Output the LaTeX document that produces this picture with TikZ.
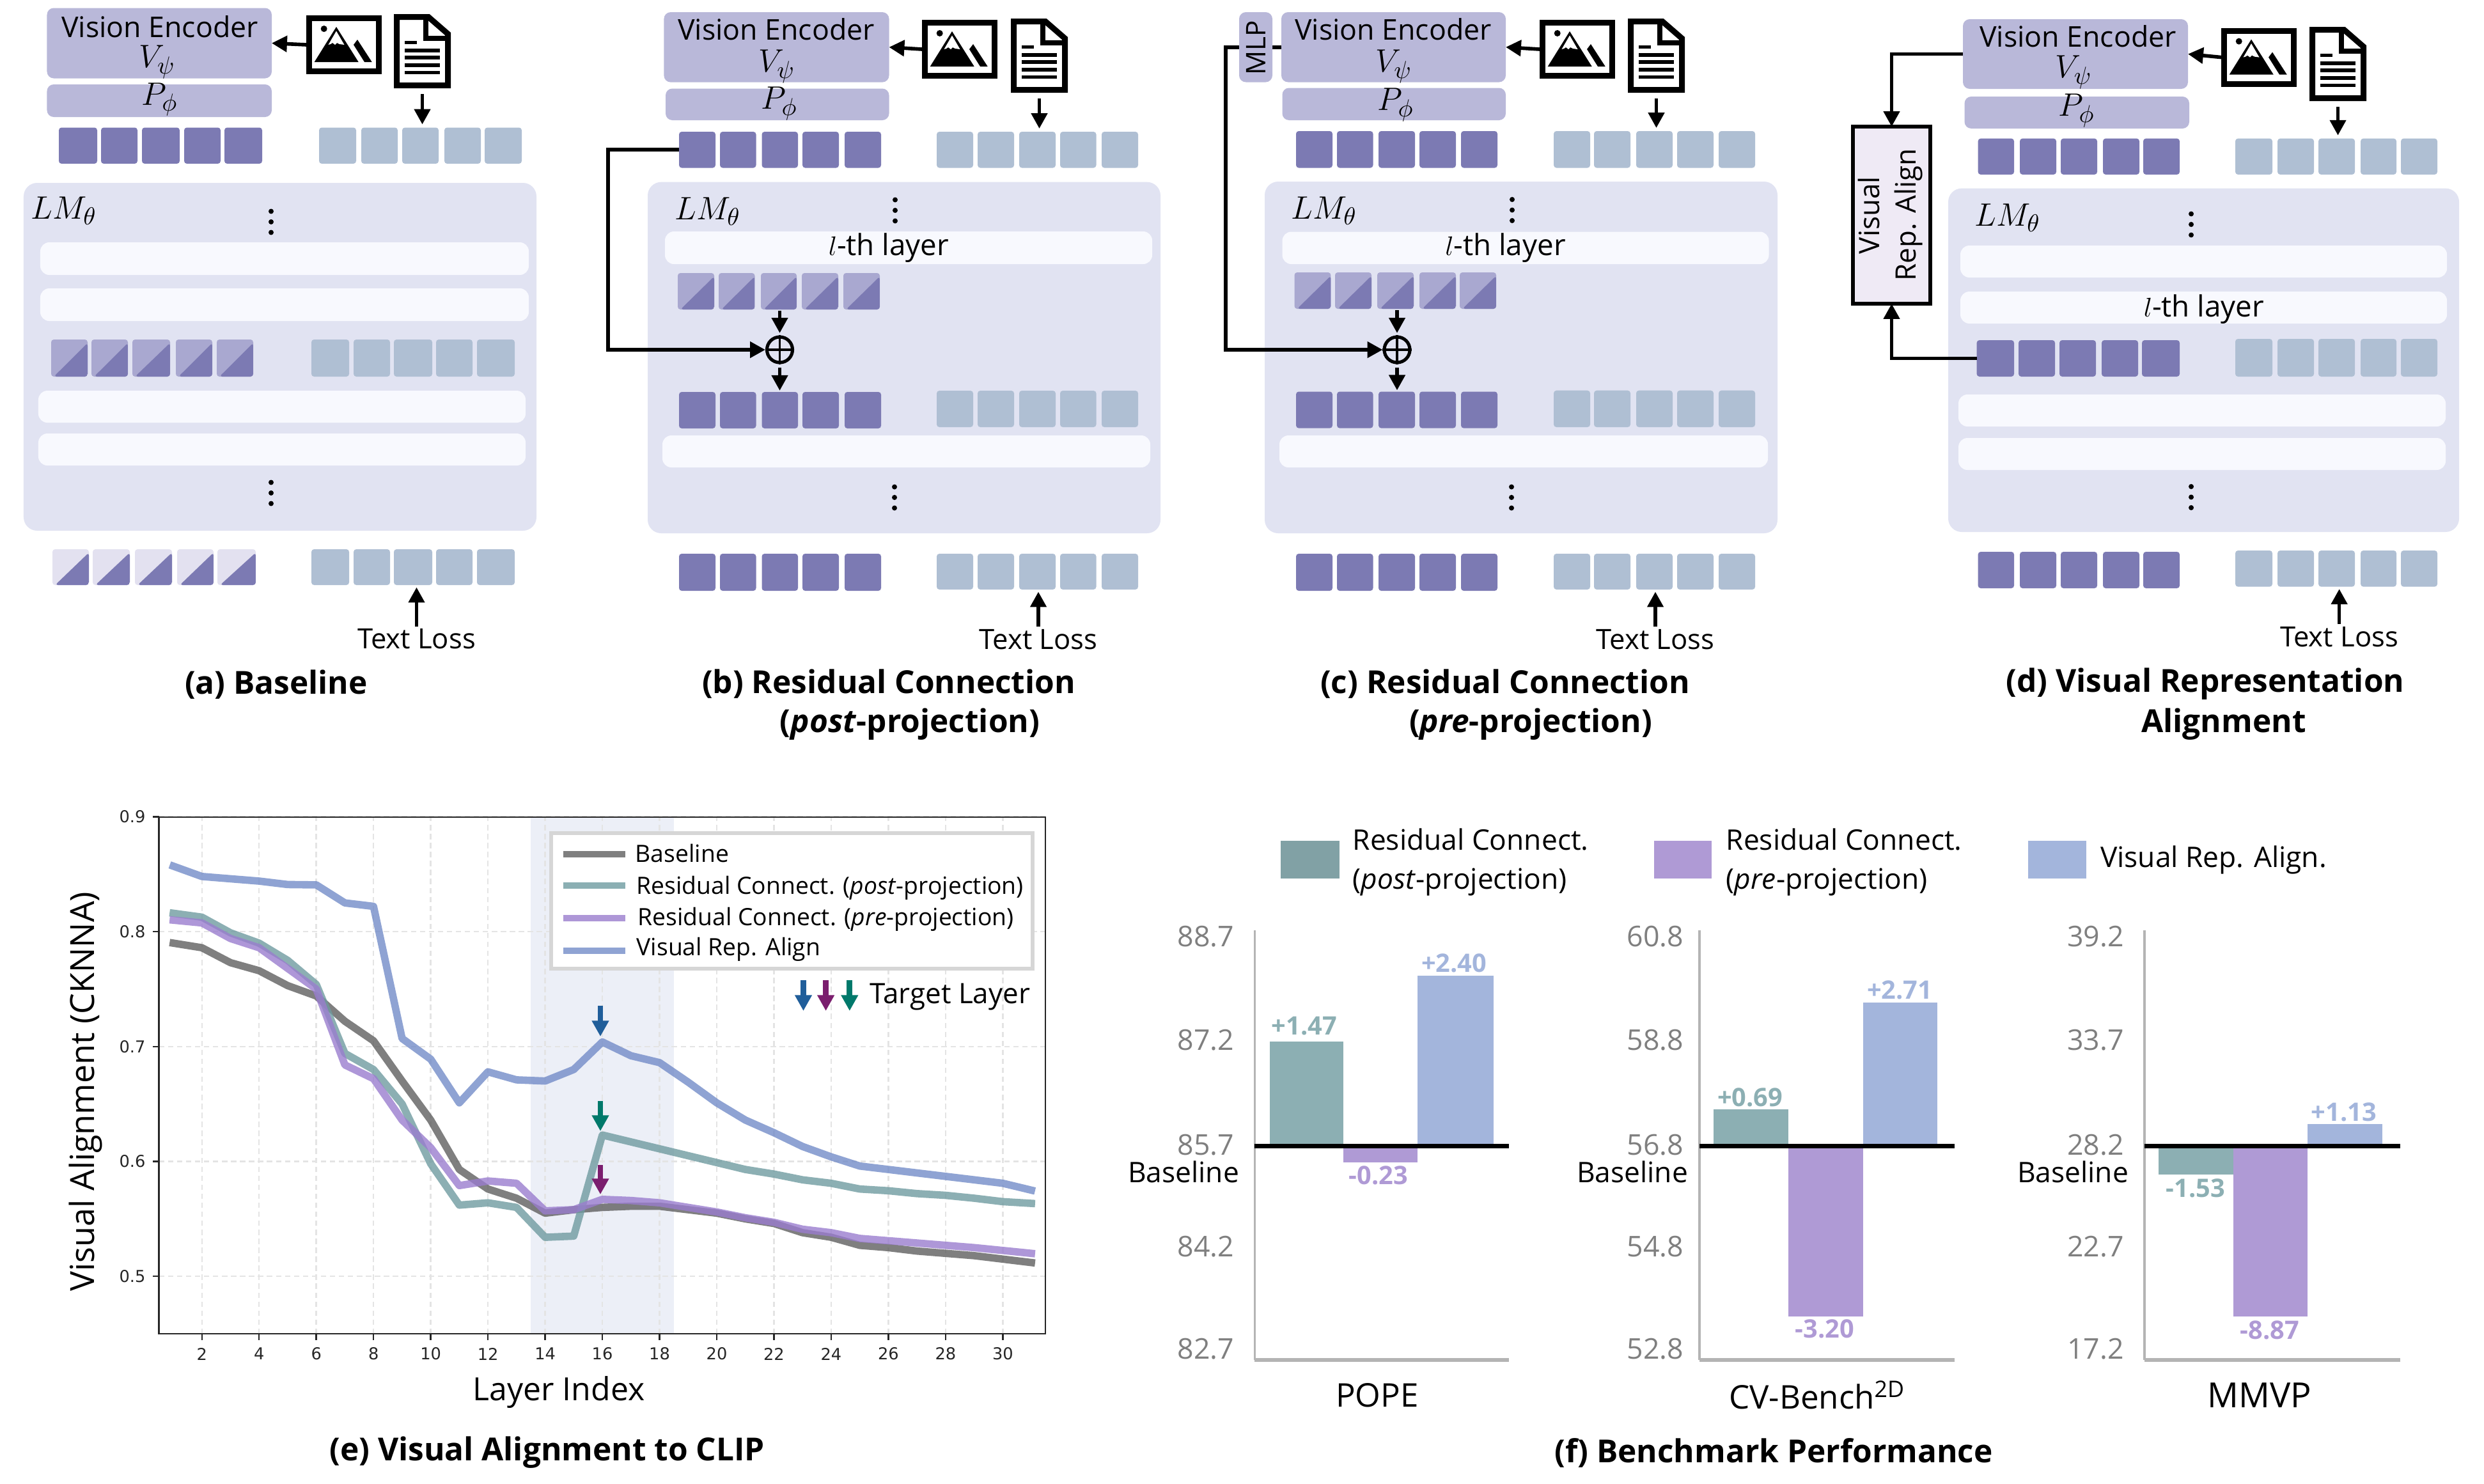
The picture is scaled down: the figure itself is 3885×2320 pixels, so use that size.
\documentclass[tikz,border=0pt]{standalone}
\usepackage{fontspec}
\setmainfont{Open Sans}
\newfontfamily\dejavu{DejaVu Sans}
\usetikzlibrary{arrows.meta,calc}
\DeclareMathSizes{13.5}{13.5}{10.5}{8}
\definecolor{tokdark}{HTML}{7C7AB3}
\definecolor{toktext}{HTML}{AFBFD3}
\definecolor{encfill}{HTML}{B9B8D9}
\definecolor{lmfill}{HTML}{E1E3F2}
\definecolor{barfill}{HTML}{F8F9FE}
\definecolor{halfmid}{HTML}{A9A8D0}
\definecolor{halflast}{HTML}{E3E1F0}
\definecolor{vrafill}{HTML}{EFEAF5}
\definecolor{cgreen}{HTML}{8CAFB3}
\definecolor{cpurple}{HTML}{AF9AD5}
\definecolor{cblue}{HTML}{A3B5DC}
\definecolor{lgreen}{HTML}{6F9BA0}
\definecolor{lpurple}{HTML}{9A7DCE}
\definecolor{lblue}{HTML}{738CC8}
\definecolor{lgray}{HTML}{5F5F5F}
\definecolor{tgray}{HTML}{7F7F7F}
\definecolor{axgray}{HTML}{B4B4B4}
\definecolor{griddash}{HTML}{E4E4E4}
\definecolor{bandfill}{HTML}{ECEFF7}
\definecolor{arblue}{HTML}{205E9A}
\definecolor{argreen}{HTML}{00796B}
\definecolor{arpurple}{HTML}{7B1E6E}
\newcommand\fs[1]{\fontsize{#1}{#1}\selectfont}
% box: [style]{name}{x1}{y1}{x2}{y2}{text}
\newcommand\mybox[7][]{%
  \pgfmathsetmacro\bxw{(#5-#3)*0.01}\pgfmathsetmacro\bxh{(#6-#4)*0.01}%
  \node[#1,minimum width=\bxw cm,minimum height=\bxh cm,inner sep=0pt,outer sep=0pt] (#2) at ({(#3+#5)/2},{(#4+#6)/2}) {#7};}
% row of tokens: {style}{prefix}{y1}{y2}{x1/x2,...}
\newcommand\tokrow[5]{\foreach \a/\b [count=\i] in {#5} {\mybox[#1]{#2\i}{\a}{#3}{\b}{#4}{}}}
\newcommand\imgicon[3]{%
  \node[draw=black,line width=2.56pt,fill=white,minimum width=1.09cm,minimum height=0.83cm,inner sep=0pt] (#1) at (#2+59,#3+46) {};
  \begin{scope}[shift={(#2,#3)}]
    \fill (27.7,21) circle (0.05cm);
    \fill (47,18) -- (12.7,73) -- (81.7,73) -- cycle;
    \fill[white] (47,24.5) -- (34.5,46) -- (38,45) -- (41,43) -- (45,46) -- (48,43) -- (52,45) -- (59.5,46) -- cycle;
    \fill (80,38) -- (102.7,73) -- (91,73) -- (74,46) -- cycle;
  \end{scope}}
\newcommand\docicon[3]{%
  \node[minimum width=0.89cm,minimum height=1.16cm,inner sep=0pt] (#1) at (#2+44.5,#3+58) {};
  \begin{scope}[shift={(#2,#3)}]
    \draw[line width=2.56pt,fill=white,miter limit=10] (4.5,4.5) -- (54,4.5) -- (84.5,31) -- (84.5,111.5) -- (4.5,111.5) -- cycle;
    \draw[line width=2.2pt] (50,4.5) -- (50,38) -- (84,38);
    \foreach \ly in {57,68,80,91.7} {\draw[line width=1.5pt] (17,\ly) -- (72,\ly);}
    \draw[line width=1.5pt] (17,44.7) -- (36,44.7);
  \end{scope}}
\newcommand\vdotsat[3]{%
  \node[minimum size=1pt,inner sep=0pt] (#1) at (#2,#3) {};
  \fill (#2,#3-16.5) circle (0.04cm) (#2,#3) circle (0.04cm) (#2,#3+16.5) circle (0.04cm);}
\newcommand\plusat[3]{%
  \node[circle,draw=black,line width=1.45pt,minimum size=0.40cm,inner sep=0pt] (#1) at (#2,#3) {};
  \draw[line width=1.1pt] (#1.north) -- (#1.south) (#1.west) -- (#1.east);}
\tikzset{
  tokv/.style={fill=tokdark,rounded corners=1.2pt},
  tokt/.style={fill=toktext,rounded corners=1.2pt},
  half/.style={fill=#1,rounded corners=1.2pt,path picture={\fill[tokdark] ([xshift=1.2pt]path picture bounding box.south west) -- (path picture bounding box.south east) -- ([yshift=-1.5pt]path picture bounding box.north east) -- cycle;}},
  encbox/.style={fill=encfill,rounded corners=3pt},
  lmbox/.style={fill=lmfill,rounded corners=6pt},
  layerbar/.style={fill=barfill,rounded corners=4pt},
  layertext/.style={font=\fs{13},inner sep=0pt},
  enctext/.style={font=\fs{12.7},inner sep=0pt},
  mathtext/.style={font=\fs{13.5},inner sep=0pt},
  caption/.style={font=\bfseries\fs{14.1},inner sep=0pt},
  losstext/.style={font=\fs{12.4},inner sep=0pt},
  arr/.style={line width=1.6pt,-{Triangle[length=6.8pt,width=7pt]}},
  elbow/.style={line width=1.5pt,line join=miter},
  serie/.style={line width=3.3pt,draw opacity=.8,line cap=rect,line join=round},
  etick/.style={font=\dejavu\fs{7.3},text=black!85,inner sep=0pt},
  elegend/.style={font=\fs{10.6},inner sep=0pt,anchor=west},
  ftick/.style={font=\fs{12.7},text=tgray,inner sep=0pt,anchor=east},
  fbase/.style={font=\fs{12.6},inner sep=0pt},
  fval/.style={font=\bfseries\fs{11.3},inner sep=0pt},
  fcat/.style={font=\fs{14.5},inner sep=0pt},
  flegend/.style={font=\fs{12.6},inner sep=0pt,anchor=west},
  tgt/.style={line width=2.5pt,-{Triangle[length=7pt,width=7.2pt]}},
}
\begin{document}
\begin{tikzpicture}[x=0.01cm,y=-0.01cm]
\useasboundingbox (0,0) rectangle (3885,2320);
% ===== panel a
\mybox[encbox]{enca}{73.5}{12.5}{425}{122.5}{}
\mybox[encbox]{proja}{73.5}{132}{425}{183}{}
\node[enctext] (vea) at (250,42) {Vision Encoder};
\node[mathtext] (va) at (245.7,97) {$V_\psi$};
\node[mathtext] (pa) at (249.7,155.5) {$P_\phi$};
\imgicon{imga}{479}{24}
\docicon{doca}{616}{22}
\tokrow{tokv}{tva}{199.5}{256}{92/152,158/215,222/281,288/345,351/410}
\tokrow{tokt}{tta}{199.5}{256}{499/557,565/622,629/686,695/752,758/816}
\mybox[lmbox]{lma}{37}{286}{839}{830}{}
\node[mathtext] (lma t) at (100,330) {$LM_\theta$};
\vdotsat{da1}{424}{347}
\mybox[layerbar]{ba1}{63}{379}{827}{430}{}
\mybox[layerbar]{ba2}{63}{451}{827}{502}{}
\tokrow{half=halfmid}{hma}{531}{589}{80/137,143/200,207/266,275/332,339/396}
\tokrow{tokt}{mta}{531}{589}{487/546,553/610,616/676,682/739,746/805}
\mybox[layerbar]{ba3}{60}{611}{822}{661}{}
\mybox[layerbar]{ba4}{60}{678}{822}{728}{}
\vdotsat{da2}{424}{771}
\tokrow{half=halflast}{hba}{859}{915}{82/139,145/203,211/269,277/334,340/400}
\tokrow{tokt}{bta}{859}{915}{487/546,553/610,616/676,682/739,746/805}
\node[losstext] (tla) at (651.5,999.6) {Text Loss};
\draw[arr] (imga.west) -- (enca.east);
\draw[arr,shorten <=2.4pt,shorten >=1.4pt] (doca.south) -- (doca.south |- tta3.north);
\draw[arr,shorten <=1pt,shorten >=1pt] (tla.north) -- (tla.north |- bta3.south);
\node[caption] (capa) at (432,1071) {(a) Baseline};
% ===== panel b
\mybox[encbox]{encb}{1038.4}{19}{1390.5}{128.6}{}
\mybox[encbox]{projb}{1041}{138.5}{1390.5}{188}{}
\node[enctext] (veb) at (1214,46) {Vision Encoder};
\node[mathtext] (vb) at (1215,104) {$V_\psi$};
\node[mathtext] (pb) at (1219,162) {$P_\phi$};
\imgicon{imgb}{1442}{31}
\docicon{docb}{1581}{29}
\tokrow{tokv}{tvb}{206}{262.5}{1062/1119,1126/1182.5,1191.5/1248,1255/1312,1321/1378}
\tokrow{tokt}{ttb}{206}{262.5}{1465/1522,1529/1586,1594/1651,1658/1714.5,1723/1780}
\mybox[lmbox]{lmb}{1013}{284.7}{1815}{834}{}
\node[mathtext] (lmb t) at (1107,331) {$LM_\theta$};
\vdotsat{db1}{1400}{329}
\mybox[layerbar]{bb1}{1040}{362}{1802}{413}{}
\node[layertext] (lb) at (1390,388) {$l$-th layer};
\tokrow{half=halfmid}{hmb}{427}{484}{1060/1117,1124/1180.5,1190/1246,1254/1311,1319/1376}
\plusat{plusb}{1219.5}{547}
\tokrow{tokv}{mvb}{613}{670}{1062/1119,1126/1182.5,1191.5/1248,1255/1312,1321/1378}
\tokrow{tokt}{mtb}{611}{668}{1465/1522,1529/1586,1594/1651,1658/1714.5,1723/1780}
\mybox[layerbar]{bb2}{1036}{681}{1799}{731}{}
\vdotsat{db2}{1399}{778}
\tokrow{tokv}{bvb}{866}{924}{1062/1119,1126/1182.5,1191.5/1248,1255/1312,1321/1378}
\tokrow{tokt}{btb}{866}{922}{1465/1522,1529/1586,1594/1651,1658/1714.5,1723/1780}
\node[losstext] (tlb) at (1624,1000) {Text Loss};
\coordinate (bturn) at (951,547);
\draw[elbow,arr] (tvb1.west) -| (bturn) -- (plusb.west);
\draw[arr] (imgb.west) -- (encb.east);
\draw[arr,shorten <=2.4pt,shorten >=1.4pt] (docb.south) -- (docb.south |- ttb3.north);
\draw[arr,shorten <=0.6pt,shorten >=1pt] (plusb.north |- hmb3.south) -- (plusb.north);
\draw[arr,shorten <=1.6pt,shorten >=.6pt] (plusb.south) -- (plusb.south |- mvb3.north);
\draw[arr,shorten <=1pt,shorten >=1pt] (tlb.north) -- (tlb.north |- btb3.south);
\node[caption] (capb1) at (1390,1070) {(b) Residual Connection};
\node[caption] (capb2) at (1423,1133) {(\textit{post}-projection)};
% ===== panel c
\mybox[encbox]{encc}{2004}{19}{2355}{128.5}{}
\coordinate (cturn) at (1917,547);
\mybox[encbox]{projc}{2005.5}{137.5}{2355}{188}{}
\node[enctext] (vec) at (2179,46) {Vision Encoder};
\node[mathtext] (vc) at (2180,104) {$V_\psi$};
\node[mathtext] (pc) at (2183,164) {$P_\phi$};
\imgicon{imgc}{2408}{31}
\docicon{docc}{2546}{29}
\tokrow{tokv}{tvc}{205}{262.5}{2027/2084,2091/2147.5,2156/2213,2220/2277,2285/2342}
\tokrow{tokt}{ttc}{205}{262.5}{2430/2487,2493/2550,2559/2616,2623/2680,2688/2745}
\mybox[lmbox]{lmc}{1978}{284}{2780}{834}{}
\node[mathtext] (lmc t) at (2071,330) {$LM_\theta$};
\vdotsat{dc1}{2365}{328.5}
\mybox[layerbar]{bc1}{2005.5}{362.5}{2766.5}{413}{}
\node[layertext] (lc) at (2354.5,388) {$l$-th layer};
\tokrow{half=halfmid}{hmc}{426}{483}{2024.5/2081.4,2088/2145,2154/2211,2220/2277,2283/2340}
\plusat{plusc}{2185}{547}
\tokrow{tokv}{mvc}{612.5}{669.6}{2027/2084,2091/2147.5,2156/2213,2220/2277,2285/2342}
\tokrow{tokt}{mtc}{610.7}{668}{2430/2487,2493/2550,2559/2616,2623/2680,2688/2745}
\mybox[layerbar]{bc2}{2001}{681}{2765}{731}{}
\vdotsat{dc2}{2364}{778}
\tokrow{tokv}{bvc}{866}{924}{2027/2084,2091/2147.5,2156/2213,2220/2277,2285/2342}
\tokrow{tokt}{btc}{866}{922}{2430/2487,2493/2550,2559/2616,2623/2680,2688/2745}
\node[losstext] (tlc) at (2589,1000) {Text Loss};
\draw[elbow,arr] (encc.west) -| (cturn) -- (plusc.west);
\mybox[encbox]{mlpc}{1938}{19}{1990}{128.5}{}
\node[font=\fs{12},inner sep=0pt,rotate=90] (mlpt) at (1964,74.5) {MLP};
\draw[arr] (imgc.west) -- (encc.east);
\draw[arr,shorten <=2.4pt,shorten >=1.4pt] (docc.south) -- (docc.south |- ttc3.north);
\draw[arr,shorten <=0.6pt,shorten >=1pt] (plusc.north |- hmc3.south) -- (plusc.north);
\draw[arr,shorten <=1.6pt,shorten >=.6pt] (plusc.south) -- (plusc.south |- mvc3.north);
\draw[arr,shorten <=1pt,shorten >=1pt] (tlc.north) -- (tlc.north |- btc3.south);
\node[caption] (capc1) at (2354,1070) {(c) Residual Connection};
\node[caption] (capc2) at (2394,1133) {(\textit{pre}-projection)};
% ===== panel d
\mybox[encbox]{encd}{3070}{30}{3422}{139}{}
\mybox[encbox]{projd}{3072.5}{151}{3424}{201}{}
\node[enctext] (ved) at (3250,57) {Vision Encoder};
\node[mathtext] (vd) at (3243.4,113) {$V_\psi$};
\node[mathtext] (pd) at (3248,173) {$P_\phi$};
\imgicon{imgd}{3474}{43.6}
\docicon{docd}{3612}{42}
\tokrow{tokv}{tvd}{216.6}{273}{3093.6/3150,3159/3216,3223/3280,3289/3346,3352/3409}
\tokrow{tokt}{ttd}{216.6}{273}{3496/3554,3562/3619,3626/3683,3692/3748,3755/3812}
\mybox[lmbox]{lmd}{3047}{294.6}{3846}{832}{}
\node[mathtext] (lmd t) at (3140,340.5) {$LM_\theta$};
\vdotsat{dd1}{3427}{351}
\mybox[layerbar]{bd1}{3066}{384}{3827}{434}{}
\mybox[layerbar]{bd2}{3066}{456}{3827}{506}{}
\node[layertext] (ld) at (3447,484) {$l$-th layer};
\tokrow{tokv}{mvd}{532}{589}{3091.6/3150,3157/3214,3221/3278,3287/3344,3350/3409}
\tokrow{tokt}{mtd}{530}{589}{3496/3554,3562/3619,3626/3683,3692/3748,3755/3812}
\mybox[layerbar]{bd3}{3063}{617}{3825}{667}{}
\mybox[layerbar]{bd4}{3063}{685}{3825}{735}{}
\vdotsat{dd2}{3427}{777.5}
\tokrow{tokv}{bvd}{863}{920}{3093.6/3150,3159/3216,3223/3280,3289/3346,3352/3409}
\tokrow{tokt}{btd}{861}{917.6}{3496/3554,3562/3619,3626/3683,3692/3748,3755/3812}
\mybox[draw=black,line width=1.7pt,fill=vrafill]{vra}{2898}{198}{3019}{475}{}
\node[font=\fs{12.5},inner sep=0pt,rotate=90] (vrat1) at (2922.6,336.7) {Visual};
\node[font=\fs{12.5},inner sep=0pt,rotate=90] (vrat2) at (2985,336) {Rep. Align};
\node[losstext] (tld) at (3658.6,996) {Text Loss};
\draw[elbow,arr] (encd.west) -| (vra.north);
\draw[elbow,arr] (mvd1.west) -| (vra.south);
\draw[arr] (imgd.west) -- (encd.east);
\draw[arr,shorten <=2.4pt,shorten >=1.4pt] (docd.south) -- (docd.south |- ttd3.north);
\draw[arr,shorten <=1pt,shorten >=1pt] (tld.north) -- (tld.north |- btd3.south);
\node[caption] (capd1) at (3449,1070) {(d) Visual Representation};
\node[caption] (capd2) at (3478,1133) {Alignment};
% ===== panel e
\begin{scope}[shift={(226.28,2894.7)},x=0.4471cm,y=17.96cm]
  \fill[bandfill] (13.5,0.4499) rectangle (18.5,0.8999);
  \foreach \t in {2,4,...,30} {
    \draw[griddash,line width=.7pt,dash pattern=on 2.4pt off 1.6pt] (\t,0.4499) -- (\t,0.8999);
    \draw[black!85,line width=.7pt] (\t,0.4499) -- ++(0,-0.0056);
    \node[etick] (ex\t) at (\t,0.4325) {\t};
  }
  \foreach \v in {0.5,0.6,0.7,0.8,0.9} {
    \draw[griddash,line width=.7pt,dash pattern=on 2.4pt off 1.6pt] (0.5,\v) -- (31.5,\v);
    \draw[black!85,line width=.7pt] (0.5,\v) -- ++(-0.217,0);
    \node[etick,anchor=east] (ey\v) at (0.04,\v) {\v};
  }
  \draw[serie,lgray] plot coordinates {(1,.79)(2,.786)(3,.773)(4,.766)(5,.753)(6,.744)(7,.722)(8,.705)(9,.67)(10,.636)(11,.593)(12,.576)(13,.568)(14,.555)(15,.558)(16,.560)(17,.561)(18,.561)(19,.558)(20,.555)(21,.55)(22,.546)(23,.538)(24,.534)(25,.527)(26,.525)(27,.522)(28,.52)(29,.518)(30,.515)(31,.512)};
  \draw[serie,lgreen] plot coordinates {(1,.816)(2,.8126)(3,.799)(4,.79)(5,.775)(6,.754)(7,.694)(8,.68)(9,.65)(10,.598)(11,.562)(12,.564)(13,.56)(14,.534)(15,.535)(16,.623)(17,.617)(18,.611)(19,.605)(20,.599)(21,.593)(22,.589)(23,.584)(24,.581)(25,.576)(26,.5745)(27,.572)(28,.5705)(29,.568)(30,.565)(31,.5635)};
  \draw[serie,lpurple] plot coordinates {(1,.81)(2,.8076)(3,.794)(4,.786)(5,.768)(6,.75)(7,.684)(8,.672)(9,.636)(10,.612)(11,.579)(12,.583)(13,.581)(14,.557)(15,.558)(16,.567)(17,.566)(18,.564)(19,.56)(20,.556)(21,.551)(22,.547)(23,.541)(24,.538)(25,.533)(26,.531)(27,.529)(28,.527)(29,.525)(30,.5225)(31,.52)};
  \draw[serie,lblue] plot coordinates {(1,.857)(2,.848)(3,.846)(4,.844)(5,.841)(6,.8407)(7,.825)(8,.822)(9,.707)(10,.689)(11,.651)(12,.678)(13,.671)(14,.67)(15,.68)(16,.704)(17,.692)(18,.686)(19,.669)(20,.651)(21,.636)(22,.625)(23,.613)(24,.604)(25,.596)(26,.593)(27,.59)(28,.587)(29,.584)(30,.581)(31,.575)};
\end{scope}
\draw[black!85,line width=.7pt] (248.7,1278) rectangle (1635,2086);
\mybox[draw=black!16,line width=1.7pt,fill=white]{eleg}{862}{1303}{1615}{1515}{}
\foreach \yy/\cc in {1336/lgray,1385/lgreen,1436/lpurple,1487/lblue} {\draw[serie,\cc,line cap=butt,line width=2.85pt] (881,\yy) -- (977.5,\yy);}
\node[elegend] (el1) at (993,1334) {Baseline};
\node[elegend] (el2) at (995,1388.5) {Residual Connect. (\textit{post}-projection)};
\node[elegend] (el3) at (997,1437.7) {Residual Connect. (\textit{pre}-projection)};
\node[elegend] (el4) at (995,1485) {Visual Rep. Align};
\draw[tgt,arblue] (1256.5,1533) -- (1256.5,1581);
\draw[tgt,arpurple] (1291.6,1533) -- (1291.6,1581);
\draw[tgt,argreen] (1328.8,1533) -- (1328.8,1581);
\node[font=\fs{12.5},inner sep=0pt,anchor=west] (etgt) at (1360,1559) {Target Layer};
\draw[tgt,arblue] (939,1573) -- (939,1621);
\draw[tgt,argreen] (939,1721.7) -- (939,1769);
\draw[tgt,arpurple] (939,1822) -- (939,1868);
\node[font=\fs{14.8},inner sep=0pt,rotate=90] (eyl) at (134,1707) {Visual Alignment (CKNNA)};
\node[font=\fs{14.2},inner sep=0pt] (exl) at (874,2177) {Layer Index};
\node[caption] (cape) at (855.6,2272) {(e) Visual Alignment to CLIP};
% ===== panel f legend
\mybox[fill=cgreen!92!black]{fs1}{2003}{1315}{2094.5}{1373.5}{}
\mybox[fill=cpurple]{fs2}{2587}{1315}{2677}{1373.5}{}
\mybox[fill=cblue]{fs3}{3171.5}{1315}{3263}{1373.5}{}
\node[flegend] (fl1a) at (2115,1313) {Residual Connect.};
\node[flegend] (fl1b) at (2115,1380) {(\textit{post}-projection)};
\node[flegend] (fl2a) at (2699,1313) {Residual Connect.};
\node[flegend] (fl2b) at (2699,1380) {(\textit{pre}-projection)};
\node[flegend] (fl3) at (3284.5,1345) {Visual Rep. Align.};
% charts
\foreach \nn/\ax/\rx/\tx/\lx/\ta/\tb/\tc/\td/\te in {
  p/1962.4/2360/1931/1851/88.7/87.2/85.7/84.2/82.7,
  c/2658/3057/2633.7/2553/60.8/58.8/56.8/54.8/52.8,
  m/3354/3754/3322.6/3242/39.2/33.7/28.2/22.7/17.2} {
  \node[ftick] (ft\nn1) at (\tx,1465) {\ta};
  \node[ftick] (ft\nn2) at (\tx,1627) {\tb};
  \node[ftick] (ft\nn3) at (\tx,1790.5) {\tc};
  \node[ftick] (ft\nn4) at (\tx,1949.5) {\td};
  \node[ftick] (ft\nn5) at (\tx,2110) {\te};
  \node[fbase] (fb\nn) at (\lx,1833) {Baseline};
}
% bars
\mybox[fill=cgreen]{pb1}{1985.6}{1628.7}{2101}{1795}{}
\mybox[fill=cpurple]{pb2}{2101}{1790}{2217}{1817.8}{}
\mybox[fill=cblue]{pb3}{2217}{1525.7}{2335.5}{1795}{}
\mybox[fill=cgreen]{cb1}{2680}{1734.5}{2797}{1795}{}
\mybox[fill=cpurple]{cb2}{2797}{1790}{2914}{2058.6}{}
\mybox[fill=cblue]{cb3}{2914}{1568}{3030}{1795}{}
\mybox[fill=cgreen]{mb1}{3376}{1790}{3493}{1837}{}
\mybox[fill=cpurple]{mb2}{3493}{1790}{3608.6}{2058.6}{}
\mybox[fill=cblue]{mb3}{3608.6}{1757.7}{3725.7}{1795}{}
\foreach \ax/\rx in {1962.4/2360,2658/3057,3354/3754} {
  \draw[axgray,line width=1pt] (\ax,1454.7) -- (\ax,2127);
  \draw[axgray,line width=1.5pt] (\ax,2127) -- (\rx,2127);
  \draw[black,line width=2pt] (\ax,1792.5) -- (\rx,1792.5);
}
\node[fval,text=cgreen] (pv1) at (2040,1605) {+1.47};
\node[fval,text=cpurple] (pv2) at (2155.8,1838) {-0.23};
\node[fval,text=cblue] (pv3) at (2274,1506) {+2.40};
\node[fval,text=cgreen] (cv1) at (2737,1716) {+0.69};
\node[fval,text=cpurple] (cv2) at (2854,2078) {-3.20};
\node[fval,text=cblue] (cv3) at (2971,1548) {+2.71};
\node[fval,text=cgreen] (mv1) at (3434,1858.7) {-1.53};
\node[fval,text=cpurple] (mv2) at (3550,2080.5) {-8.87};
\node[fval,text=cblue] (mv3) at (3665.8,1739) {+1.13};
\node[fcat] (fc1) at (2154,2182) {POPE};
\node[fcat] (fc2) at (2842,2182) {CV-Bench\textsuperscript{2D}};
\node[fcat,font=\fs{15.4}] (fc3) at (3533.7,2182) {MMVP};
\node[caption] (capf) at (2774,2272) {(f) Benchmark Performance};
\end{tikzpicture}
\end{document}
